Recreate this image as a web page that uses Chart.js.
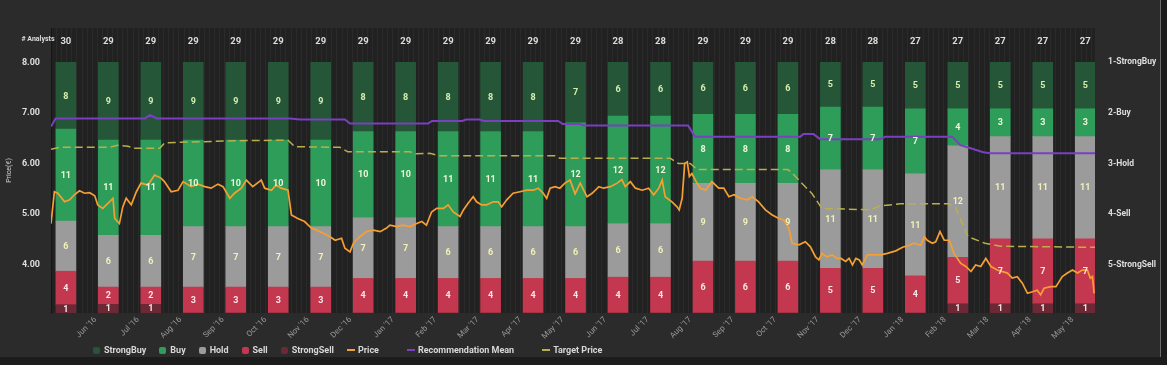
<!DOCTYPE html>
<html>
<head>
<meta charset="utf-8">
<script src="https://cdn.jsdelivr.net/npm/chart.js@4.4.1/dist/chart.umd.min.js"></script>
<style>
  html, body { margin: 0; padding: 0; background: #1c1c1c; }
  #wrap { position: relative; width: 1160px; height: 357px; background: #2b2b2b; border-right: 1px solid #6b6b6b; }
  canvas { position: absolute; left: 0; top: 0; }
  #legend { position: absolute; left: 93px; top: 345px; display: flex; align-items: center; font: bold 9px Roboto, sans-serif; color: #d8d8d8; white-space: nowrap; }
  .item { display: flex; align-items: center; margin-right: 13px; }
  .item.wide { margin-right: 28px; }
  .sq { width: 7px; height: 7px; border-radius: 2px; margin-right: 4px; }
  .ln { width: 8px; height: 2px; margin-right: 3px; }
</style>
</head>
<body>
<div id="wrap">
  <canvas id="chart" width="1160" height="357"></canvas>
  <div id="legend"></div>
</div>
<script>
// month labels under the axis (bars sit at index 0..24)
const months = ["Jun '16", "Jul '16", "Aug '16", "Sep '16", "Oct '16", "Nov '16", "Dec '16", "Jan '17", "Feb '17", "Mar '17", "Apr '17", "May '17",
  "Jun '17", "Jul '17", "Aug '17", "Sep '17", "Oct '17", "Nov '17", "Dec '17", "Jan '18", "Feb '18", "Mar '18", "Apr '18", "May '18"];
const analysts = [30, 29, 29, 29, 29, 29, 29, 29, 29, 29, 29, 29, 29, 28, 28, 29, 29, 29, 28, 28, 27, 27, 27, 27, 27];

const strongBuy  = [8, 9, 9, 9, 9, 9, 9, 8, 8, 8, 8, 8, 7, 6, 6, 6, 6, 6, 5, 5, 5, 5, 5, 5, 5];
const buy        = [11, 11, 11, 10, 10, 10, 10, 10, 10, 11, 11, 11, 12, 12, 12, 8, 8, 8, 7, 7, 7, 4, 3, 3, 3];
const hold       = [6, 6, 6, 7, 7, 7, 7, 7, 7, 6, 6, 6, 6, 6, 6, 9, 9, 9, 11, 11, 11, 12, 11, 11, 11];
const sell       = [4, 2, 2, 3, 3, 3, 3, 4, 4, 4, 4, 4, 4, 4, 4, 6, 6, 6, 5, 5, 4, 5, 7, 7, 7];
const strongSell = [1, 1, 1, 0, 0, 0, 0, 0, 0, 0, 0, 0, 0, 0, 0, 0, 0, 0, 0, 0, 0, 1, 1, 1, 1];

// price (€), x in month index
const priceX = [-0.35,-0.27,-0.19,-0.03,0.09,0.20,0.32,0.44,0.56,0.68,0.75,0.87,0.99,1.11,1.15,1.26,1.34,1.42,1.54,1.66,
  1.77,1.93,2.09,2.24,2.32,2.48,2.64,2.76,2.95,3.11,3.27,3.42,3.58,3.70,3.86,3.97,4.13,4.25,4.40,4.60,
  4.68,4.84,4.95,5.07,5.23,5.31,5.46,5.62,5.78,5.90,6.06,6.22,6.34,6.49,6.57,6.69,6.77,6.92,7.08,7.24,
  7.40,7.55,7.63,7.79,7.94,8.10,8.26,8.38,8.49,8.61,8.73,8.89,9.00,9.12,9.28,9.36,9.47,9.59,9.67,9.79,
  9.91,10.06,10.18,10.26,10.38,10.53,10.69,10.85,11.01,11.12,11.24,11.32,11.40,11.52,11.63,11.75,11.87,11.99,12.11,12.27,
  12.39,12.55,12.66,12.82,12.98,13.09,13.17,13.29,13.41,13.57,13.72,13.84,13.96,14.04,14.11,14.27,14.39,14.44,14.51,14.57,
  14.63,14.68,14.74,14.84,14.94,15.06,15.21,15.37,15.49,15.61,15.73,15.88,16.04,16.16,16.31,16.47,16.63,16.79,16.90,17.02,
  17.10,17.26,17.41,17.53,17.65,17.73,17.80,17.92,18.04,18.16,18.25,18.36,18.44,18.52,18.60,18.68,18.75,18.87,19.03,19.19,
  19.34,19.54,19.70,19.85,19.97,20.13,20.21,20.28,20.40,20.48,20.58,20.68,20.80,20.91,21.07,21.19,21.31,21.42,21.54,21.66,
  21.78,21.93,22.05,22.17,22.28,22.40,22.52,22.64,22.76,22.87,22.95,23.03,23.19,23.31,23.46,23.58,23.70,23.82,23.93,24.05,
  24.12,24.17,24.21];
const priceY = [4.81,5.44,5.41,5.24,5.28,5.38,5.46,5.41,5.42,5.36,5.18,5.11,5.21,5.31,4.91,4.81,5.14,5.31,5.18,5.44,
  5.61,5.57,5.77,5.71,5.64,5.44,5.47,5.64,5.54,5.59,5.54,5.51,5.59,5.54,5.31,5.41,5.51,5.67,5.54,5.67,
  5.51,5.47,5.57,5.51,5.47,4.98,4.91,4.85,4.72,4.68,4.62,4.55,4.48,4.52,4.32,4.25,4.42,4.55,4.65,4.68,
  4.65,4.72,4.78,4.75,4.78,4.75,4.81,4.85,4.78,5.04,5.11,5.11,5.18,5.04,4.95,5.08,5.21,5.34,5.24,5.18,
  5.18,5.24,5.24,5.14,5.28,5.41,5.44,5.47,5.47,5.51,5.41,5.31,5.51,5.54,5.51,5.61,5.67,5.40,5.61,5.34,
  5.41,5.54,5.51,5.54,5.61,5.68,5.54,5.64,5.51,5.47,5.51,5.38,5.51,5.67,5.34,5.24,5.14,5.08,5.31,6.00,
  6.03,5.74,5.80,5.64,5.51,5.47,5.64,5.51,5.51,5.34,5.38,5.31,5.28,5.34,5.24,5.08,4.98,4.91,4.88,4.72,
  4.42,4.39,4.45,4.35,4.15,4.09,4.22,4.15,4.19,4.12,4.12,4.06,4.12,3.99,4.12,4.09,3.99,4.19,4.19,4.19,
  4.22,4.27,4.34,4.38,4.42,4.38,4.55,4.48,4.42,4.45,4.65,4.48,4.48,4.22,4.02,3.96,3.86,3.99,3.96,4.12,
  3.96,3.89,3.86,3.83,3.73,3.76,3.63,3.43,3.46,3.49,3.40,3.53,3.56,3.56,3.76,3.83,3.89,3.83,3.89,3.89,
  3.73,3.76,3.43];

// recommendation mean (1 = StrongBuy .. 5 = StrongSell)
const recX = [-0.35,-0.24,1.86,1.98,2.14,5.28,5.51,6.57,6.69,8.53,8.62,9.33,9.42,9.75,9.84,11.59,11.70,12.10,12.20,14.65,
  14.81,17.29,17.36,17.60,17.76,19.17,19.29,20.87,21.06,21.34,21.60,21.76,24.23];
const recY = [2.27,2.11,2.11,2.04,2.11,2.11,2.13,2.13,2.21,2.21,2.16,2.16,2.13,2.13,2.16,2.16,2.22,2.22,2.25,2.25,
  2.47,2.47,2.42,2.42,2.52,2.52,2.47,2.47,2.64,2.71,2.78,2.80,2.80];

// target price (€)
const tgtX = [-0.35,-0.14,1.04,1.22,1.46,1.63,2.21,2.33,4.10,5.23,5.39,6.45,6.64,8.10,8.24,8.57,8.81,11.52,11.63,14.23,
  14.42,14.70,14.86,17.00,17.10,17.29,17.57,17.80,18.94,19.17,19.64,20.77,20.94,21.24,21.64,22.00,24.23];
const tgtY = [6.28,6.32,6.32,6.36,6.34,6.30,6.30,6.41,6.45,6.46,6.33,6.32,6.23,6.23,6.19,6.20,6.15,6.15,6.10,6.10,
  6.00,6.00,5.88,5.88,5.81,5.64,5.40,5.11,5.08,5.16,5.20,5.20,5.14,4.55,4.42,4.36,4.34];

const priceTicks = [4, 5, 6, 7, 8];
const recTicks = [1, 2, 3, 4, 5];
const recLabels = ['1-StrongBuy', '2-Buy', '3-Hold', '4-Sell', '5-StrongSell'];

// axis ranges
const X_MIN = -0.35, X_MAX = 24.23, TICK_SHIFT = 0.7;
const P_MIN = 3.04, P_MAX = 8.68, BAR_TOP = 8;   // bars fill from the bottom up to 8.00
const REC_FLIP = 9;                               // rec 1 sits on price 8, rec 5 on price 4

const pts = (xs, ys) => xs.map((x, i) => ({ x, y: ys[i] }));
const pct = arr => arr.map((v, i) => ({ x: i, y: v / analysts[i] * 100 }));

function barSet(label, arr, color, labelColor) {
  return { type: 'bar', label, data: pct(arr), counts: arr, labelColor, backgroundColor: color,
    yAxisID: 'yb', stack: 'r', barThickness: 20, borderWidth: 0, order: 2 };
}
function lineSet(label, xs, ys, color, axis, extra) {
  return Object.assign({ type: 'line', label, data: pts(xs, ys), borderColor: color, backgroundColor: color,
    yAxisID: axis, borderWidth: 1.7, pointRadius: 0, tension: 0, fill: false, order: 0 }, extra || {});
}

const datasets = [
  barSet('StrongSell', strongSell, '#6c2935', '#f3e3e3'),
  barSet('Sell', sell, '#c3384f', '#f8e8e8'),
  barSet('Hold', hold, '#9b9b9b', '#f3f1b8'),
  barSet('Buy', buy, '#2e9d5a', '#eef6d8'),
  barSet('StrongBuy', strongBuy, '#245637', '#d8eeb0'),
  lineSet('Price', priceX, priceY, '#f69f32', 'y'),
  lineSet('Recommendation Mean', recX, recY, '#7b3fc2', 'yr', { borderWidth: 2 }),
  lineSet('Target Price', tgtX, tgtY, '#b9b04c', 'y', { borderDash: [8, 4], borderWidth: 1.5 })
];

const plotBg = {
  id: 'plotBg',
  beforeDraw(chart) {
    const { ctx, chartArea: a, scales: { x } } = chart;
    ctx.save();
    ctx.fillStyle = '#212121';
    ctx.fillRect(a.left, a.top, a.right - a.left, a.bottom - a.top);
    ctx.strokeStyle = 'rgba(255,255,255,0.045)';
    ctx.lineWidth = 1;
    for (let v = x.min; v <= x.max; v += 0.12) {
      const px = Math.round(x.getPixelForValue(v)) + 0.5;
      ctx.beginPath(); ctx.moveTo(px, a.top); ctx.lineTo(px, a.bottom); ctx.stroke();
    }
    ctx.restore();
  }
};

const segLabels = {
  id: 'segLabels',
  afterDatasetsDraw(chart) {
    const ctx = chart.ctx, a = chart.chartArea, xs = chart.scales.x;
    ctx.save();
    ctx.textAlign = 'center';
    ctx.textBaseline = 'middle';
    ctx.font = 'bold 9px Roboto';
    chart.data.datasets.forEach((ds, di) => {
      if (!ds.counts) return;
      chart.getDatasetMeta(di).data.forEach((bar, i) => {
        if (!ds.counts[i]) return;
        ctx.fillStyle = ds.labelColor;
        ctx.fillText(ds.counts[i], bar.x, (bar.y + bar.base) / 2 + 0.5);
      });
    });
    ctx.fillStyle = '#dcdcdc';
    ctx.font = 'bold 9.5px Roboto';
    analysts.forEach((n, i) => ctx.fillText(n, xs.getPixelForValue(i), a.top + 13.5));
    ctx.font = 'bold 7px Roboto';
    ctx.fillText('# Analysts', a.left - 13, a.top + 11);
    ctx.restore();
  }
};

new Chart(document.getElementById('chart'), {
  type: 'bar',
  data: { datasets },
  options: {
    responsive: false,
    animation: false,
    layout: { padding: { top: 28, bottom: 14, left: 0, right: 0 } },
    plugins: { legend: { display: false }, tooltip: { enabled: false } },
    scales: {
      x: {
        type: 'linear', min: X_MIN, max: X_MAX, offset: false,
        grid: { display: false, drawTicks: false, offset: false }, border: { display: false },
        afterBuildTicks: s => { s.ticks = months.map((m, i) => ({ value: i + TICK_SHIFT })); },
        afterFit: s => { s.height = 30; },
        ticks: { autoSkip: false, minRotation: 45, maxRotation: 45, padding: 2, color: '#9a9a9a',
          font: { family: 'Roboto', size: 8 }, callback: (v, i) => months[i] }
      },
      y: {
        position: 'left', min: P_MIN, max: P_MAX,
        grid: { display: false, drawTicks: false }, border: { display: true, color: '#151515' },
        afterBuildTicks: s => { s.ticks = priceTicks.map(v => ({ value: v })); },
        afterFit: s => { s.width = 51; },
        ticks: { padding: 11, color: '#dedede', font: { family: 'Roboto', size: 9, weight: 'bold' }, callback: v => v.toFixed(2) },
        title: { display: true, text: 'Price(€)', color: '#cfcfcf', font: { family: 'Roboto', size: 7 }, padding: { top: 5, bottom: 0 } }
      },
      yr: {
        position: 'right', reverse: true, min: REC_FLIP - P_MAX, max: REC_FLIP - P_MIN,
        grid: { display: false, drawTicks: false }, border: { display: false },
        afterBuildTicks: s => { s.ticks = recTicks.map(v => ({ value: v })); },
        afterFit: s => { s.width = 65; },
        ticks: { padding: 13, color: '#dedede', font: { family: 'Roboto', size: 8.5, weight: 'bold' },
          callback: (v, i) => recLabels[i] }
      },
      yb: { display: false, stacked: true, min: 0, max: 100 * (P_MAX - P_MIN) / (BAR_TOP - P_MIN) }
    }
  },
  plugins: [plotBg, segLabels]
});

// html legend
const legendOrder = ['StrongBuy', 'Buy', 'Hold', 'Sell', 'StrongSell', 'Price', 'Recommendation Mean', 'Target Price'];
const legend = document.getElementById('legend');
legendOrder.forEach(name => {
  const ds = datasets.find(d => d.label === name);
  const item = document.createElement('div');
  item.className = 'item' + (name === 'Price' || name === 'Recommendation Mean' ? ' wide' : '');
  const sym = document.createElement('span');
  sym.className = ds.type === 'bar' ? 'sq' : 'ln';
  sym.style.background = ds.type === 'bar' ? ds.backgroundColor : ds.borderColor;
  item.appendChild(sym);
  item.appendChild(document.createTextNode(name));
  legend.appendChild(item);
});
</script>
</body>
</html>
